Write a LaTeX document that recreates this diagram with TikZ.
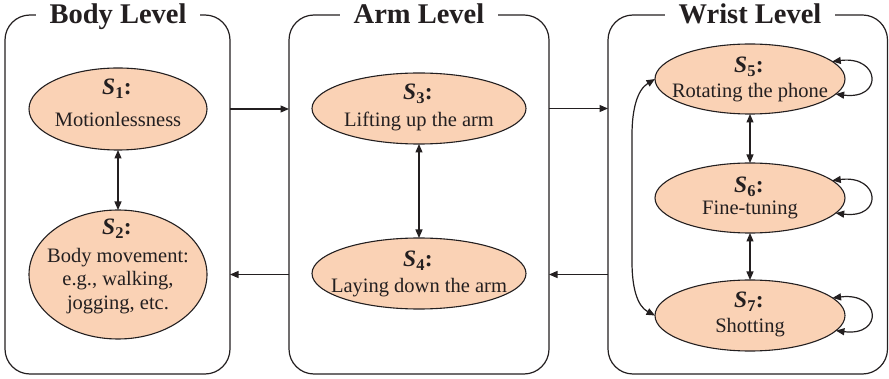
\documentclass[tikz,border=0pt]{standalone}
\usepackage{fontspec}
\setmainfont{Liberation Serif}
\usetikzlibrary{shapes.geometric,arrows.meta}
\definecolor{peach}{HTML}{FAD2B5}
\definecolor{ink}{HTML}{231F20}
\newcommand\stt[1]{{\bfseries\itshape S}{\bfseries\textsubscript{#1}:}}
\begin{document}
\begin{tikzpicture}[x=1pt,y=-1pt,
  level/.style={rectangle, draw=ink, line width=1.2pt, rounded corners=25pt, inner sep=0pt, outer sep=0pt},
  state/.style={ellipse, draw=ink, line width=1.1pt, fill=peach, inner sep=0pt, outer sep=0pt},
  ttl/.style={fill=white, font=\fontsize{28.5}{30}\selectfont\bfseries, inner xsep=14pt, inner ysep=1pt, anchor=base, text=ink},
  slab/.style={font=\fontsize{23.5}{25}\selectfont, anchor=base, text=ink, inner sep=0pt},
  desc/.style={font=\fontsize{20.5}{22}\selectfont, anchor=base, text=ink, inner sep=0pt},
  arr/.style={draw=ink, line width=1.2pt, -{Triangle[length=8.5pt,width=7pt]}},
  dbl/.style={draw=ink, line width=1.2pt, {Triangle[length=8.5pt,width=7pt]}-{Triangle[length=8.5pt,width=7pt]}}]
\useasboundingbox (0,0) rectangle (889,379);
% level boxes
\node[level, minimum width=225pt, minimum height=359pt] (body) at (117.5,194.5) {};
\node[level, minimum width=260pt, minimum height=359pt] (arm) at (419,194.5) {};
\node[level, minimum width=279.5pt, minimum height=359pt] (wrist) at (747.75,194.5) {};
\node[ttl] (bodyt) at (118,23.5) {Body Level};
\node[ttl] (armt) at (419,23.5) {Arm Level};
\node[ttl] (wristt) at (750,23.5) {Wrist Level};
% states
\node[state, minimum width=178pt, minimum height=82pt] (s1) at (118,109) {};
\node[state, minimum width=178pt, minimum height=129pt] (s2) at (118,274.5) {};
\node[state, minimum width=214pt, minimum height=71pt] (s3) at (419,108.5) {};
\node[state, minimum width=214pt, minimum height=71pt] (s4) at (419,273.5) {};
\node[state, minimum width=190pt, minimum height=70pt] (s5) at (750,79) {};
\node[state, minimum width=190pt, minimum height=70pt] (s6) at (750,198) {};
\node[state, minimum width=190pt, minimum height=71pt] (s7) at (750,315.5) {};
% texts
\node[slab] (s1l) at (117,95) {\stt{1}};
\node[desc] (s1d) at (118,127) {Motionlessness};
\node[slab] (s2l) at (117,235) {\stt{2}};
\node[desc] (s2a) at (118,263) {Body movement:};
\node[desc] (s2b) at (118,286) {e.g., walking,};
\node[desc] (s2c) at (118,310) {jogging, etc.};
\node[slab] (s3l) at (418,100) {\stt{3}};
\node[desc] (s3d) at (419,127) {Lifting up the arm};
\node[slab] (s4l) at (418,267) {\stt{4}};
\node[desc] (s4d) at (419,293) {Laying down the arm};
\node[slab] (s5l) at (749,73) {\stt{5}};
\node[desc] (s5d) at (750,98) {Rotating the phone};
\node[slab] (s6l) at (749,193) {\stt{6}};
\node[desc] (s6d) at (750,215) {Fine-tuning};
\node[slab] (s7l) at (749,308) {\stt{7}};
\node[desc] (s7d) at (750,333) {Shotting};
% level connectors
\draw[arr] (body.east |- s1) -- (arm.west |- s1);
\draw[arr] (arm.west |- s2) -- (body.east |- s2);
\draw[arr] (arm.east |- s3) -- (wrist.west |- s3);
\draw[arr] (wrist.west |- s2) -- (arm.east |- s2);
% state connectors
\draw[dbl] (s1.south) -- (s2.north);
\draw[dbl] (s3.south) -- (s4.north);
\draw[dbl] (s5.south) -- (s6.north);
\draw[dbl] (s6.south) -- (s7.north);
\draw[dbl] (s5.west) .. controls (637,90) and (632,110) .. (632,135) -- (632,262) .. controls (632,287) and (637,306) .. (s7.west);
\draw[dbl] (s5.12) .. controls +(48,-6) and +(48,6) .. (s5.-10);
\draw[dbl] (s6.12) .. controls +(48,-6) and +(48,6) .. (s6.-10);
\draw[dbl] (s7.12) .. controls +(48,-6) and +(48,6) .. (s7.-10);
\end{tikzpicture}
\end{document}
